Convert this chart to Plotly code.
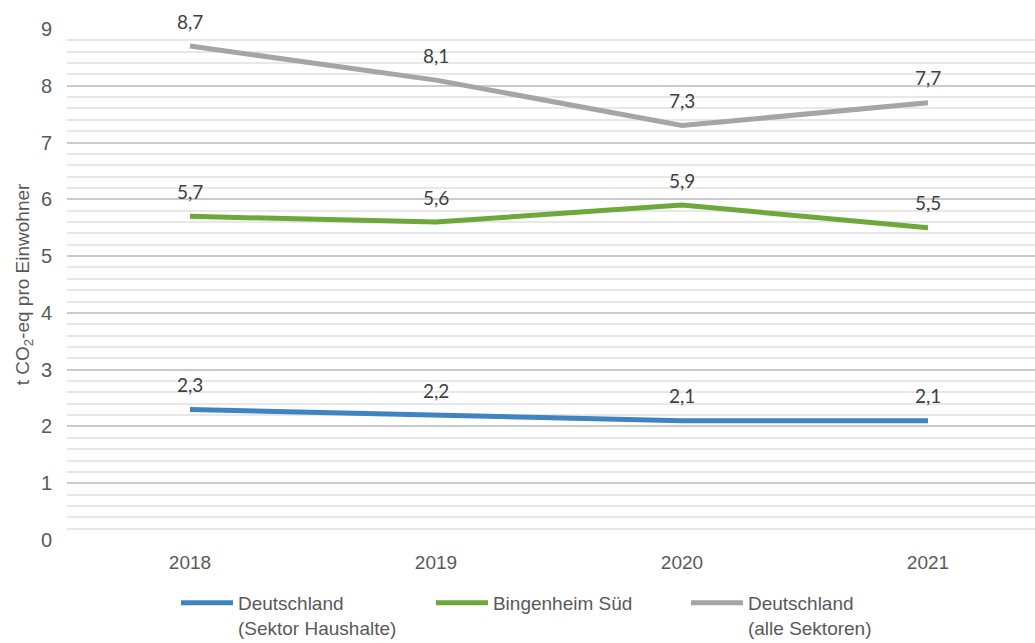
import plotly.graph_objects as go

years = ["2018", "2019", "2020", "2021"]
haushalte = [2.3, 2.2, 2.1, 2.1]
bingenheim = [5.7, 5.6, 5.9, 5.5]
alle_sektoren = [8.7, 8.1, 7.3, 7.7]

series_names = [
    "Deutschland<br>(Sektor Haushalte)",
    "Bingenheim Süd",
    "Deutschland<br>(alle Sektoren)",
]
series_values = [haushalte, bingenheim, alle_sektoren]
series_colors = ["#3F84C1", "#6CA83C", "#A5A5A5"]

x_idx = list(range(len(years)))

fig = go.Figure()
for name, vals, col in zip(series_names, series_values, series_colors):
    fig.add_trace(go.Scatter(
        x=x_idx, y=vals, mode="lines", name=name,
        line=dict(color=col, width=5),
        hoverinfo="skip",
    ))
    for xi, v in zip(x_idx, vals):
        fig.add_annotation(
            x=xi, y=v, text=f"{v:.1f}".replace(".", ","),
            showarrow=False, yshift=25,
            font=dict(family="Lato, Open Sans, sans-serif", size=19, color="#404040"),
        )

fig.update_layout(
    width=1035, height=643,
    margin=dict(l=67, r=0, t=29, b=103),
    paper_bgcolor="white", plot_bgcolor="white",
    font=dict(family="Liberation Sans, Arial, sans-serif", color="#595959"),
    showlegend=True,
    legend=dict(
        orientation="h", xref="container", yref="container",
        x=0.17, y=0.092, xanchor="left", yanchor="top",
        font=dict(size=19, color="#595959"),
        valign="top", entrywidth=188, entrywidthmode="pixels",
        itemwidth=52, tracegroupgap=0,
    ),
    xaxis=dict(
        range=[-0.5, 3.435], tickvals=x_idx, ticktext=years,
        showgrid=False, zeroline=False, showline=False,
        tickfont=dict(size=19, color="#595959"), ticks="",
        ticklabelstandoff=9,
    ),
    yaxis=dict(
        range=[0, 9], dtick=1, tick0=0,
        showgrid=True, gridcolor="#CBCBCB", gridwidth=1.5,
        zeroline=False, showline=False, ticks="",
        tickfont=dict(size=20, color="#595959"),
        ticklabelstandoff=14,
        minor=dict(dtick=0.2, showgrid=True, gridcolor="#E8E8E8", gridwidth=1.5),
        title=dict(text="t CO<sub>2</sub>-eq pro Einwohner",
                   font=dict(size=19, color="#595959"), standoff=6),
    ),
)

fig.write_html("out.html")
